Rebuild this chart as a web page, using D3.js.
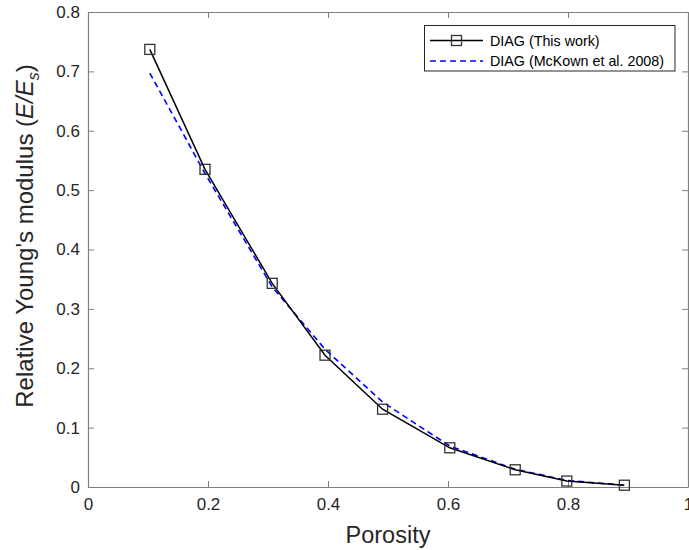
<!DOCTYPE html>
<html>
<head>
<meta charset="utf-8">
<script src="https://cdn.jsdelivr.net/npm/d3@7"></script>
<style>
  body { margin: 0; background: #fff; }
  svg { font-family: "Liberation Sans", Arial, sans-serif; }
</style>
</head>
<body>
<div id="plot"></div>
<script>
"use strict";

// porosity values for both series
const porosity = [0.103, 0.195, 0.307, 0.395, 0.491, 0.603, 0.712, 0.798, 0.894];
// DIAG (This work)
const thisWork = [0.737, 0.535, 0.343, 0.222, 0.131, 0.066, 0.029, 0.010, 0.003];
// DIAG (McKown et al. 2008)
const mcKown = [0.697, 0.528, 0.337, 0.232, 0.143, 0.069, 0.030, 0.011, 0.003];

const xTicks = [0, 0.2, 0.4, 0.6, 0.8, 1];
const yTicks = [0, 0.1, 0.2, 0.3, 0.4, 0.5, 0.6, 0.7, 0.8];
const legendLabels = ["DIAG (This work)", "DIAG (McKown et al. 2008)"];

const msm = {
    width: 689,
    height: 550,
    left: 88,
    right: 688,
    top: 12,
    bottom: 487
}

const svg = d3.select("#plot")
    .append("svg")
    .attr("width", msm.width)
    .attr("height", msm.height);

const xScale = d3.scaleLinear().domain([0, 1]).range([msm.left, msm.right]);
const yScale = d3.scaleLinear().domain([0, 0.8]).range([msm.bottom, msm.top]);

const axisColor = "#808080";
const textColor = "#262626";

// axes (MATLAB style box with inward ticks)
function styleAxis(g) {
    g.select(".domain").attr("stroke", axisColor).attr("stroke-width", 1.2);
    g.selectAll(".tick line").attr("stroke", axisColor).attr("stroke-width", 1);
    g.selectAll(".tick text").attr("fill", textColor).style("font-size", "17px");
}

svg.append("g")
    .attr("transform", "translate(0," + msm.bottom + ")")
    .call(d3.axisBottom(xScale).tickValues(xTicks).tickFormat(d3.format("~g"))
        .tickSizeInner(-6).tickSizeOuter(0).tickPadding(11))
    .call(styleAxis);

svg.append("g")
    .attr("transform", "translate(0," + msm.top + ")")
    .call(d3.axisTop(xScale).tickValues(xTicks).tickFormat("")
        .tickSizeInner(-6).tickSizeOuter(0))
    .call(styleAxis);

svg.append("g")
    .attr("transform", "translate(" + msm.left + ",0)")
    .call(d3.axisLeft(yScale).tickValues(yTicks).tickFormat(d3.format("~g"))
        .tickSizeInner(-6).tickSizeOuter(0).tickPadding(8))
    .call(styleAxis);

svg.append("g")
    .attr("transform", "translate(" + msm.right + ",0)")
    .call(d3.axisRight(yScale).tickValues(yTicks).tickFormat("")
        .tickSizeInner(-6).tickSizeOuter(0))
    .call(styleAxis);

// lines
const line = d3.line()
    .x(d => xScale(d[0]))
    .y(d => yScale(d[1]));

const blueData = porosity.map((p, i) => [p, mcKown[i]]);
const blackData = porosity.map((p, i) => [p, thisWork[i]]);

svg.append("path")
    .datum(blueData)
    .attr("d", line)
    .attr("fill", "none")
    .attr("stroke", "#0000ff")
    .attr("stroke-width", 1.6)
    .attr("stroke-dasharray", "6,4");

svg.append("path")
    .datum(blackData)
    .attr("d", line)
    .attr("fill", "none")
    .attr("stroke", "#000")
    .attr("stroke-width", 1.5);

svg.append("g")
    .selectAll("rect")
    .data(blackData)
    .enter()
    .append("rect")
    .attr("x", d => xScale(d[0]) - 5)
    .attr("y", d => yScale(d[1]) - 5)
    .attr("width", 10)
    .attr("height", 10)
    .attr("fill", "none")
    .attr("stroke", "#333")
    .attr("stroke-width", 1.3);

// legend
const legend = svg.append("g");
legend.append("rect")
    .attr("x", 424.5)
    .attr("y", 25.5)
    .attr("width", 250.5)
    .attr("height", 45.5)
    .attr("fill", "#fff")
    .attr("stroke", "#262626")
    .attr("stroke-width", 1);

const rowY = [40.5, 61];
legend.append("line")
    .attr("x1", 430).attr("x2", 483)
    .attr("y1", rowY[0]).attr("y2", rowY[0])
    .attr("stroke", "#000").attr("stroke-width", 1.5);
legend.append("rect")
    .attr("x", 451.5).attr("y", rowY[0] - 5)
    .attr("width", 10).attr("height", 10)
    .attr("fill", "none").attr("stroke", "#333").attr("stroke-width", 1.3);
legend.append("line")
    .attr("x1", 430).attr("x2", 483)
    .attr("y1", rowY[1]).attr("y2", rowY[1])
    .attr("stroke", "#0000ff").attr("stroke-width", 1.6)
    .attr("stroke-dasharray", "6,4");

legend.selectAll("text")
    .data(legendLabels)
    .enter()
    .append("text")
    .attr("x", 490)
    .attr("y", (d, i) => rowY[i])
    .attr("dy", "0.35em")
    .attr("fill", "#000")
    .style("font-size", "14.3px")
    .text(d => d);

// axis labels
svg.append("text")
    .attr("x", (msm.left + msm.right) / 2)
    .attr("y", 543)
    .attr("text-anchor", "middle")
    .attr("fill", textColor)
    .style("font-size", "23.5px")
    .text("Porosity");

const yLabel = svg.append("text")
    .attr("transform", "translate(33,236) rotate(-90)")
    .attr("text-anchor", "middle")
    .attr("fill", textColor)
    .style("font-size", "24px");
yLabel.append("tspan").text("Relative Young's modulus (");
yLabel.append("tspan").style("font-style", "italic").text("E/E");
yLabel.append("tspan").style("font-style", "italic").style("font-size", "16px")
    .attr("dy", 6).text("s");
yLabel.append("tspan").attr("dy", -6).text(")");
</script>
</body>
</html>
